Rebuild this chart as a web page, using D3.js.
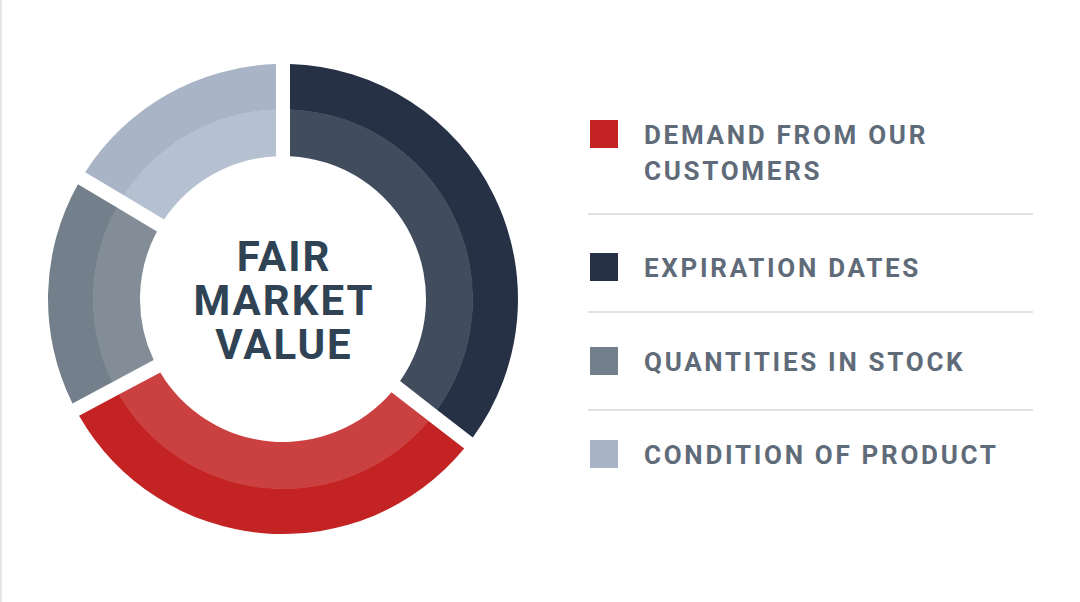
<!DOCTYPE html>
<html>
<head>
<meta charset="utf-8">
<script src="https://cdn.jsdelivr.net/npm/d3@7"></script>
<style>
  html, body { margin: 0; padding: 0; background: #fff; }
  #chart { width: 1080px; height: 602px; }
  text { font-family: Roboto, "Noto Sans", sans-serif; font-weight: 700; }
</style>
</head>
<body>
<div id="chart"></div>
<script>
// Data (legend order)
const categories = ["DEMAND FROM OUR CUSTOMERS", "EXPIRATION DATES", "QUANTITIES IN STOCK", "CONDITION OF PRODUCT"];
const values = [32, 36, 16, 16];
const labelLines = [["DEMAND FROM OUR", "CUSTOMERS"], ["EXPIRATION DATES"], ["QUANTITIES IN STOCK"], ["CONDITION OF PRODUCT"]];
// clockwise drawing order from 12 o'clock
const drawOrder = ["EXPIRATION DATES", "DEMAND FROM OUR CUSTOMERS", "QUANTITIES IN STOCK", "CONDITION OF PRODUCT"];
const outerColors = ["#c32323", "#263145", "#737f8a", "#a9b5c6"];
const innerColors = ["#cb4141", "#414c5d", "#838d97", "#b5c1d0"];
const centerLines = ["FAIR", "MARKET", "VALUE"];

const width = 1080;
const height = 602;
const cx = 283, cy = 299;
const rInner = 143, rMid = 190, rOuter = 235;

const data = categories.map((c, i) => ({ name: c, value: values[i], lines: labelLines[i], outer: outerColors[i], inner: innerColors[i] }));

const svg = d3.select("#chart").append("svg")
  .attr("width", width)
  .attr("height", height)
  .attr("viewBox", [0, 0, width, height]);

// thin frame on the left edge
svg.append("rect").attr("x", 0).attr("y", 0).attr("width", 2).attr("height", height).attr("fill", "#e6e6e6");

const pie = d3.pie()
  .value((d) => d.value)
  .sort((a, b) => drawOrder.indexOf(a.name) - drawOrder.indexOf(b.name))
  .padAngle(0.07);

const arcs = pie(data);

const padR = 200;
const outerArc = d3.arc().innerRadius(rMid - 0.5).outerRadius(rOuter).padRadius(padR);
const innerArc = d3.arc().innerRadius(rInner).outerRadius(rMid).padRadius(padR);

const donut = svg.append("g").attr("transform", `translate(${cx},${cy})`);

donut.selectAll("path.outer")
  .data(arcs)
  .join("path")
  .attr("class", "outer")
  .attr("d", outerArc)
  .attr("fill", (d) => d.data.outer);

donut.selectAll("path.inner")
  .data(arcs)
  .join("path")
  .attr("class", "inner")
  .attr("d", innerArc)
  .attr("fill", (d) => d.data.inner);

// center title
donut.append("text")
  .attr("text-anchor", "middle")
  .attr("fill", "#2f4354")
  .style("font-size", "42px")
  .style("letter-spacing", "2px")
  .selectAll("tspan")
  .data(centerLines)
  .join("tspan")
  .attr("x", 1)
  .attr("y", (d, i) => -28 + i * 44)
  .text((d) => d);

// legend
const legend = svg.append("g").attr("class", "legend");
const squareTops = [120, 253, 347, 440];
const separators = [214, 312, 410];

const rows = legend.selectAll("g.row")
  .data(data)
  .join("g")
  .attr("class", "row")
  .attr("transform", (d, i) => `translate(590,${squareTops[i]})`);

rows.append("rect")
  .attr("width", 28)
  .attr("height", 28)
  .attr("fill", (d) => d.outer);

rows.append("text")
  .attr("fill", "#5f6b79")
  .style("font-size", "26px")
  .style("letter-spacing", "2.7px")
  .selectAll("tspan")
  .data((d) => d.lines)
  .join("tspan")
  .attr("x", 54)
  .attr("y", (d, i) => 24 + i * 36)
  .text((d) => d);

legend.selectAll("line.sep")
  .data(separators)
  .join("line")
  .attr("class", "sep")
  .attr("x1", 588)
  .attr("x2", 1033)
  .attr("y1", (d) => d)
  .attr("y2", (d) => d)
  .attr("stroke", "#e2e2e2")
  .attr("stroke-width", 2);
</script>
</body>
</html>
